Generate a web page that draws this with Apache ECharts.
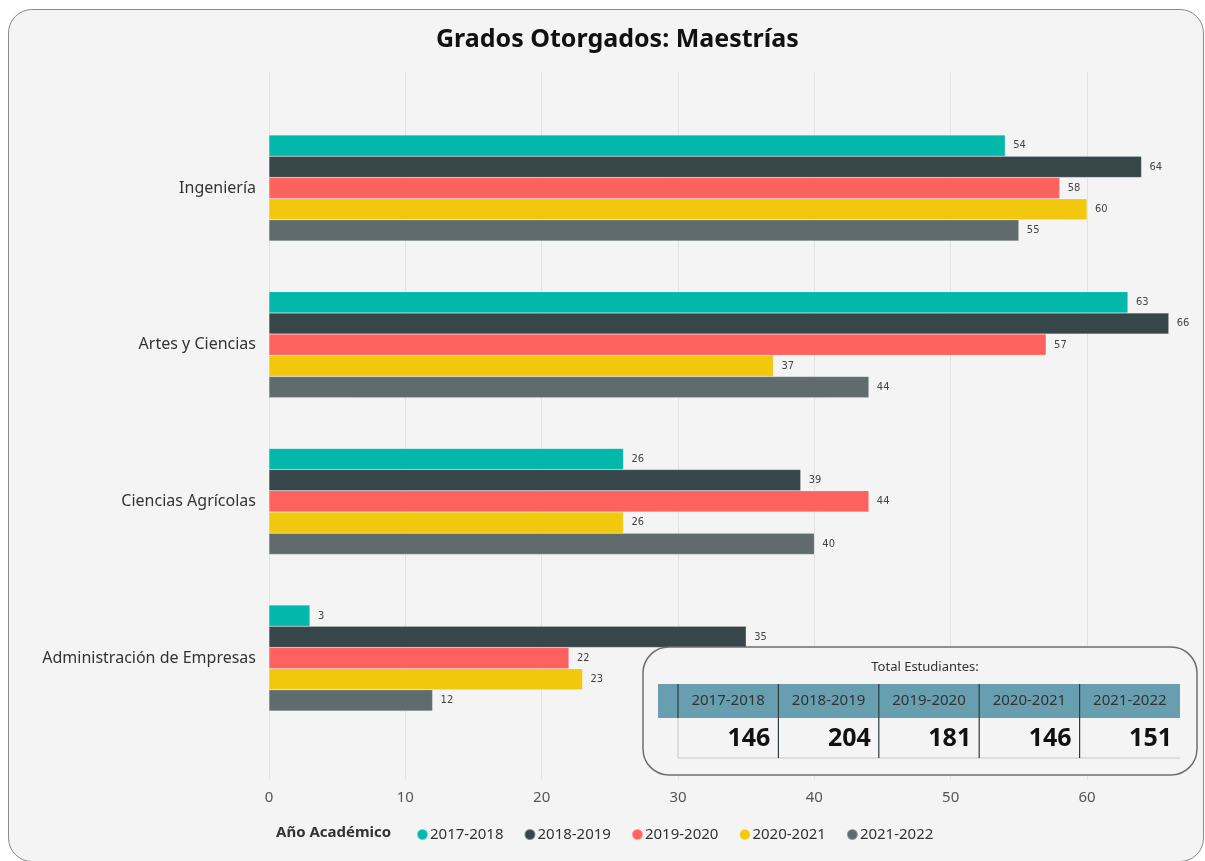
<!DOCTYPE html>
<html>
<head>
<meta charset="utf-8">
<script src="https://cdn.jsdelivr.net/npm/echarts@6/dist/echarts.min.js"></script>
<style>
html,body{margin:0;padding:0;background:#ffffff;width:1205px;height:861px;overflow:hidden;}
#card{position:absolute;left:8px;top:9px;width:1196px;height:853px;box-sizing:border-box;border:1.5px solid #8a8a8a;border-radius:24px;background:#f4f4f4;}
#chart{position:absolute;left:0;top:0;width:1205px;height:861px;}
</style>
</head>
<body>
<div id="card"></div>
<div id="chart"></div>
<script>
const categories = ['Ingeniería', 'Artes y Ciencias', 'Ciencias Agrícolas', 'Administración de Empresas'];
const seriesNames = ['2017-2018', '2018-2019', '2019-2020', '2020-2021', '2021-2022'];
const v2017 = [54, 63, 26, 3];
const v2018 = [64, 66, 39, 35];
const v2019 = [58, 57, 44, 22];
const v2020 = [60, 37, 26, 23];
const v2021 = [55, 44, 40, 12];
const xTicks = [0, 10, 20, 30, 40, 50, 60];
const tableYears = ['2017-2018', '2018-2019', '2019-2020', '2020-2021', '2021-2022'];
const tableTotals = [146, 204, 181, 146, 151];

const colors = ['#01B8AA', '#374649', '#FD625E', '#F2C80F', '#5F6B6D'];
const values = [v2017, v2018, v2019, v2020, v2021];
const FONT = '"Noto Sans", "Open Sans", sans-serif';

const chart = echarts.init(document.getElementById('chart'), null, {renderer: 'canvas'});

const unit = (1087 - 269) / 60;
const xMax = 68;
const gridW = unit * xMax;

const series = seriesNames.map((name, i) => ({
  name: name,
  type: 'bar',
  xAxisIndex: 1,
  yAxisIndex: 1,
  data: values[i],
  barWidth: 21.2,
  barGap: '0%',
  itemStyle: {color: colors[i], borderColor: 'rgba(255,255,255,0.35)', borderWidth: 0.5},
  label: {
    show: true,
    position: 'right',
    distance: 8,
    color: '#444',
    fontSize: 11,
    fontFamily: '"DejaVu Sans Condensed", "Noto Sans", sans-serif'
  }
}));

// Table graphics
const tblLeft = 658, tblRight = 1180, firstCol = 678, colW = 100.4;
const hdrTop = 684, hdrBot = 718, valBot = 758;
const graphics = [];
graphics.push({
  type: 'rect', shape: {x: 643, y: 647, width: 554, height: 128, r: 26},
  style: {fill: '#f4f4f4', stroke: '#6e6e6e', lineWidth: 1.5}, z: 100
});
graphics.push({
  type: 'text', x: 925, y: 667, z: 101,
  style: {text: 'Total Estudiantes:', fill: '#333', fontSize: 13, fontFamily: FONT, align: 'center', verticalAlign: 'middle'}
});
graphics.push({
  type: 'rect', shape: {x: tblLeft, y: hdrTop, width: tblRight - tblLeft, height: hdrBot - hdrTop},
  style: {fill: '#689fb0'}, z: 101
});
graphics.push({
  type: 'line', shape: {x1: firstCol, y1: valBot, x2: tblRight, y2: valBot},
  style: {stroke: '#c8c8c8', lineWidth: 1}, z: 102
});
graphics.push({
  type: 'line', shape: {x1: firstCol, y1: hdrTop, x2: firstCol, y2: hdrBot},
  style: {stroke: '#2e3b40', lineWidth: 1.2}, z: 102
});
graphics.push({
  type: 'line', shape: {x1: firstCol, y1: hdrBot, x2: firstCol, y2: valBot},
  style: {stroke: '#c8c8c8', lineWidth: 1}, z: 102
});
tableYears.forEach((yr, i) => {
  const cl = firstCol + i * colW;
  const cr = cl + colW;
  graphics.push({
    type: 'text', x: (cl + cr) / 2, y: (hdrTop + hdrBot) / 2, z: 103,
    style: {text: yr, fill: '#333', fontSize: 15, fontFamily: FONT, align: 'center', verticalAlign: 'middle'}
  });
  graphics.push({
    type: 'text', x: cr - 8, y: (hdrBot + valBot) / 2 + 1, z: 103,
    style: {text: String(tableTotals[i]), fill: '#111', fontSize: 25, fontWeight: 'bold', fontFamily: FONT, align: 'right', verticalAlign: 'middle'}
  });
  if (i < tableYears.length - 1) {
    graphics.push({
      type: 'line', shape: {x1: cr, y1: hdrTop, x2: cr, y2: valBot},
      style: {stroke: '#2e3b40', lineWidth: 1.2}, z: 102
    });
  }
});
graphics.push({
  type: 'text', x: 276, y: 833, z: 103,
  style: {text: 'Año Académico', fill: '#333', fontSize: 15, fontWeight: 'bold', fontFamily: FONT, align: 'left', verticalAlign: 'middle'}
});

const splitColors = xTicks.map(() => '#e2e2e2').concat(['rgba(0,0,0,0)']);

const option = {
  backgroundColor: 'transparent',
  animation: false,
  color: colors,
  title: {
    text: 'Grados Otorgados: Maestrías',
    left: 431, top: 22,
    textStyle: {fontSize: 25, fontWeight: 'bold', color: '#111', fontFamily: FONT}
  },
  legend: {
    data: seriesNames,
    left: 411, top: 822,
    icon: 'circle',
    itemWidth: 11, itemHeight: 11,
    itemGap: 20,
    textStyle: {fontSize: 15, color: '#333', fontFamily: FONT, padding: [0, 0, 0, -3]}
  },
  grid: [
    {left: 269, top: 72, width: gridW, height: 708, containLabel: false},
    {left: 269, top: 109.7, width: gridW, height: 626.7, containLabel: false}
  ],
  xAxis: [
    {
      type: 'value', gridIndex: 0, min: 0, max: xMax, interval: 10,
      axisLine: {show: false}, axisTick: {show: false},
      splitLine: {show: true, showMaxLine: false, lineStyle: {color: splitColors, width: 1}},
      axisLabel: {color: '#555', fontSize: 15, fontFamily: FONT, margin: 10, showMaxLabel: false,
        formatter: v => (xTicks.indexOf(v) >= 0 ? String(v) : '')}
    },
    {
      type: 'value', gridIndex: 1, min: 0, max: xMax, interval: 10,
      show: false
    }
  ],
  yAxis: [
    {type: 'category', gridIndex: 0, data: [''], show: false},
    {
      type: 'category', gridIndex: 1, data: categories, inverse: true,
      axisLine: {show: false}, axisTick: {show: false},
      axisLabel: {color: '#333', fontSize: 16, fontFamily: FONT, margin: 13}
    }
  ],
  series: series,
  graphic: graphics
};
chart.setOption(option);
</script>
</body>
</html>
